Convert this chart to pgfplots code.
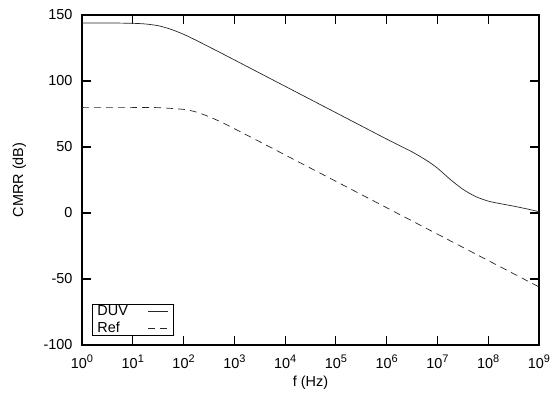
\documentclass[border=0pt]{standalone}
\usepackage{fontspec}
\setmainfont{Liberation Sans}
\usepackage{pgfplots}
\pgfplotsset{compat=1.18}
\newcommand\ex[1]{\raisebox{0.42em}{\fontsize{11}{11}\selectfont #1}}
\begin{document}
\begin{tikzpicture}[font=\fontsize{14.5}{16}\selectfont]
\begin{axis}[
  scale only axis,
  width=457bp, height=330bp,
  xmode=log, log basis x=10,
  xmin=1, xmax=1e9, ymin=-100, ymax=150,
  xtick={1,1e1,1e2,1e3,1e4,1e5,1e6,1e7,1e8,1e9},
  xticklabels={10\ex{0},10\ex{1},10\ex{2},10\ex{3},10\ex{4},10\ex{5},10\ex{6},10\ex{7},10\ex{8},10\ex{9}},
  ytick={-100,-50,0,50,100,150},
  yticklabels={-100,-50,0,50,100,150},
  minor tick num=0, minor xtick={},
  tick align=inside, tick pos=both,
  major tick length=9bp,
  axis line style={line width=1.2pt},
  tick style={line width=1.2pt, black},
  xticklabel style={yshift=-6bp},
  yticklabel style={xshift=-6bp},
  xlabel={f (Hz)}, ylabel={CMRR (dB)},
  xlabel style={at={(axis description cs:0.5,-0.115)}, anchor=center},
  ylabel style={at={(axis description cs:-0.137,0.5)}, anchor=center, rotate=0},
  legend plot pos=right,
  legend style={at={(axis cs:1,-100)}, anchor=south west, xshift=10bp, yshift=9bp,
    draw=black, line width=1pt, inner xsep=3bp, inner ysep=0pt, row sep=2.5bp,
    font=\fontsize{14.5}{14.5}\selectfont, cells={anchor=west},
    nodes={inner ysep=1.2bp}},
  legend image code/.code={\path (0bp,0bp) (40bp,0bp); \draw[#1, line width=0.6pt] (18bp,0bp) -- (38bp,0bp);},
]
\addplot[black!85, line width=0.7pt, smooth, tension=0.4] coordinates {
 (1,144) (3.162,143.97) (10,143.7) (17.78,143.2) (31.62,141.9) (56.23,139.2)
 (100,135.4) (177.8,130.8) (316.2,125.9) (562.3,121.0) (1000,116) (3162,106)
 (1e4,96) (1e5,76) (1e6,56) (3.162e6,46.3) (6.31e6,39.5) (1e7,34)
 (1.778e7,25.5) (3.162e7,18) (5.623e7,12.5) (1e8,9) (1.778e8,7)
 (3.162e8,5.2) (5.623e8,3.2) (1e9,1)
};
\addlegendentry{DUV}
\addplot[black!85, line width=0.7pt, dash pattern=on 7bp off 5bp, smooth, tension=0.4] coordinates {
 (1,80) (10,80) (31.62,79.8) (100,78.5) (177.8,76.5) (316.2,73.0) (562.3,68.7)
 (1000,63.9) (3162,54.0) (1e4,44) (1e5,24) (1e6,4) (1e7,-16) (1e8,-36) (1e9,-56)
};
\addlegendentry{Ref}
\coordinate (ll) at (rel axis cs:0,0);
\coordinate (ur) at (rel axis cs:1,1);
\end{axis}
\pgfresetboundingbox
\path[use as bounding box] ([shift={(-82bp,-47bp)}]ll) rectangle ([shift={(13bp,15bp)}]ur);
\end{tikzpicture}
\end{document}
